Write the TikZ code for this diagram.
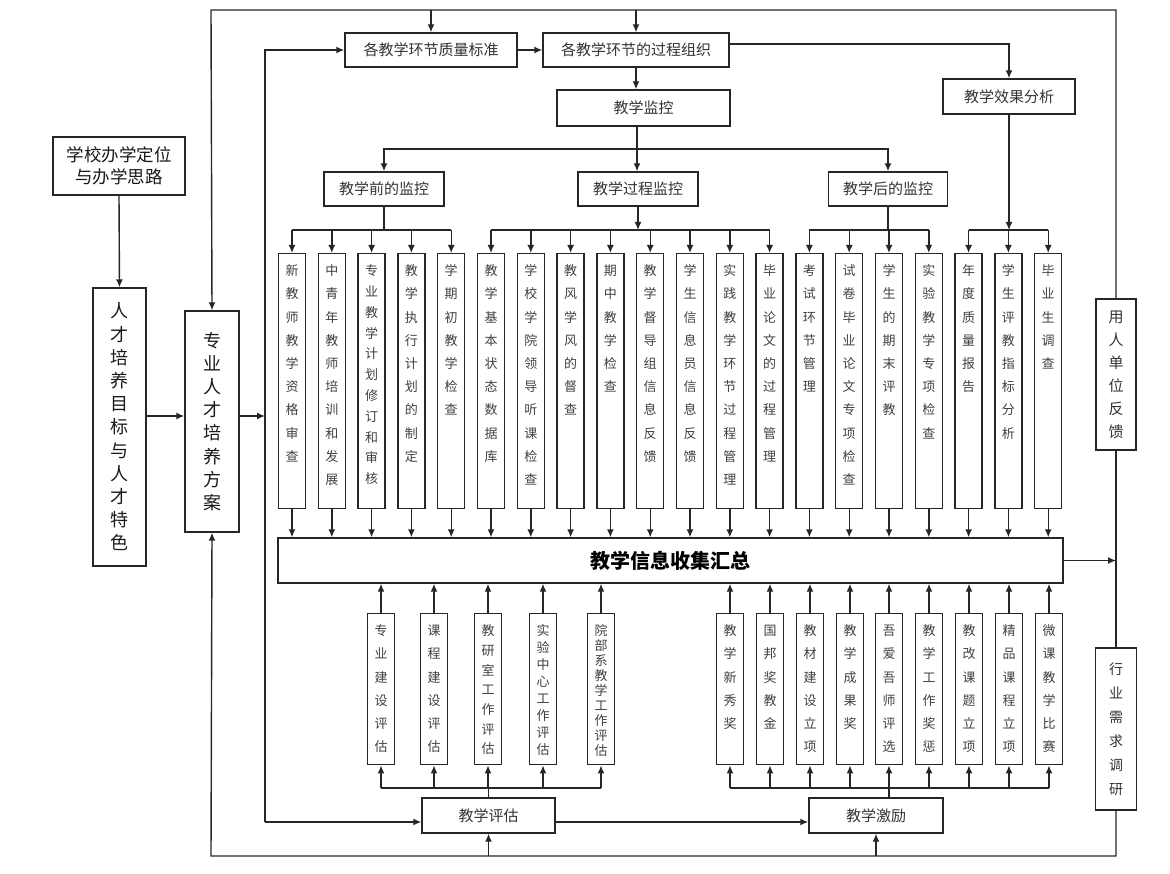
\documentclass[tikz,border=0pt]{standalone}
\usepackage{fontspec}
\setmainfont{Noto Sans CJK SC}
\usepackage{tikz}
\usetikzlibrary{arrows.meta}
\tikzstyle{line} = [draw=black!85, -{Latex[length=8pt,width=7pt]}, line width=1.4pt]
\tikzstyle{wire} = [draw=black!85, line width=1.4pt]
\tikzstyle{hbox} = [draw=black!85, line width=1.4pt, text=black!80, inner sep=0pt, font=\fontsize{15}{18}\selectfont]
\tikzstyle{vbox} = [draw=black!85, line width=1.4pt, text=black!75, inner sep=0pt, minimum width=27pt, anchor=north, text height=22pt, font=\fontsize{13}{23.2}\selectfont]
\tikzstyle{vtall} = [vbox, text depth=233pt]
\tikzstyle{vshort} = [vbox, text depth=129pt]

% one character per line, top aligned
\makeatletter
\def\vstack#1{\parbox[t]{20pt}{\centering\vstack@a#1\@nil}}
\def\vstack@a#1#2\@nil{#1\ifx\relax#2\relax\expandafter\@gobble\else\expandafter\vstack@b\fi#2\@nil}
\def\vstack@b{\\\vstack@a}
\makeatother

\begin{document}
\begin{tikzpicture}[x=1pt,y=-1pt]
	\useasboundingbox (0,0) rectangle (1170,874);
	
	% ------------------- Left column ------------------- %
	\node[hbox, minimum width=132pt, minimum height=58pt, align=center, text=black!90, font=\fontsize{17.5}{22}\selectfont] (school) at (119,166) {学校办学定位\\与办学思路};
	\node[hbox, minimum width=53pt, minimum height=278pt, text=black!90, font=\fontsize{18}{23.2}\selectfont] (goal) at (119.5,427) {\vstack{人才培养目标与人才特色}};
	\node[hbox, minimum width=54pt, minimum height=221pt, text=black!90, font=\fontsize{18}{23.2}\selectfont] (plan) at (212,421.5) {\vstack{专业人才培养方案}};
	
	% ------------------- Upper boxes ------------------- %
	\node[hbox, minimum width=172pt, minimum height=34pt] (std) at (431,50) {各教学环节质量标准};
	\node[hbox, minimum width=186pt, minimum height=34pt] (org) at (636,50) {各教学环节的过程组织};
	\node[hbox, minimum width=173pt, minimum height=36pt] (mon) at (643.5,108) {教学监控};
	\node[hbox, minimum width=132pt, minimum height=35pt] (eff) at (1009,96.5) {教学效果分析};
	\node[hbox, minimum width=120pt, minimum height=34pt] (pre) at (384,189) {教学前的监控};
	\node[hbox, minimum width=120pt, minimum height=34pt] (proc) at (638,189) {教学过程监控};
	\node[hbox, minimum width=119pt, minimum height=34pt] (post) at (888,189) {教学后的监控};
	
	% ------------------- Monitoring items ------------------- %
	\node[vtall] (q1) at (292,253) {\vstack{新教师教学资格审查}};
	\node[vtall] (q2) at (331.8,253) {\vstack{中青年教师培训和发展}};
	\node[vtall, font=\fontsize{13}{20.8}\selectfont] (q3) at (371.6,253) {\vstack{专业教学计划修订和审核}};
	\node[vtall] (q4) at (411.4,253) {\vstack{教学执行计划的制定}};
	\node[vtall] (q5) at (451.2,253) {\vstack{学期初教学检查}};
	\node[vtall] (q6) at (491,253) {\vstack{教学基本状态数据库}};
	\node[vtall] (q7) at (530.8,253) {\vstack{学校学院领导听课检查}};
	\node[vtall] (q8) at (570.6,253) {\vstack{教风学风的督查}};
	\node[vtall] (q9) at (610.4,253) {\vstack{期中教学检查}};
	\node[vtall] (q10) at (650.2,253) {\vstack{教学督导组信息反馈}};
	\node[vtall] (q11) at (690,253) {\vstack{学生信息员信息反馈}};
	\node[vtall] (q12) at (729.8,253) {\vstack{实践教学环节过程管理}};
	\node[vtall] (q13) at (769.6,253) {\vstack{毕业论文的过程管理}};
	\node[vtall] (q14) at (809.4,253) {\vstack{考试环节管理}};
	\node[vtall] (q15) at (849.2,253) {\vstack{试卷毕业论文专项检查}};
	\node[vtall] (q16) at (889,253) {\vstack{学生的期末评教}};
	\node[vtall] (q17) at (928.8,253) {\vstack{实验教学专项检查}};
	\node[vtall] (q18) at (968.6,253) {\vstack{年度质量报告}};
	\node[vtall] (q19) at (1008.4,253) {\vstack{学生评教指标分析}};
	\node[vtall] (q20) at (1048.2,253) {\vstack{毕业生调查}};
	
	\node[hbox, minimum width=785pt, minimum height=45pt, text=black, font=\bfseries\fontsize{20}{24}\selectfont] (info) at (670.5,560.5) {教学信息收集汇总};
	
	% ------------------- Evaluation and incentive items ------------------- %
	\node[vshort] (e1) at (381,613) {\vstack{专业建设评估}};
	\node[vshort] (e2) at (434,613) {\vstack{课程建设评估}};
	\node[vshort, font=\fontsize{13}{19.7}\selectfont] (e3) at (488,613) {\vstack{教研室工作评估}};
	\node[vshort, font=\fontsize{13}{16.9}\selectfont] (e4) at (543,613) {\vstack{实验中心工作评估}};
	\node[vshort, font=\fontsize{13}{15}\selectfont] (e5) at (601,613) {\vstack{院部系教学工作评估}};
	
	\node[vshort] (r1) at (730,613) {\vstack{教学新秀奖}};
	\node[vshort] (r2) at (770,613) {\vstack{国邦奖教金}};
	\node[vshort] (r3) at (810,613) {\vstack{教材建设立项}};
	\node[vshort] (r4) at (850,613) {\vstack{教学成果奖}};
	\node[vshort] (r5) at (889,613) {\vstack{吾爱吾师评选}};
	\node[vshort] (r6) at (929,613) {\vstack{教学工作奖惩}};
	\node[vshort] (r7) at (969,613) {\vstack{教改课题立项}};
	\node[vshort] (r8) at (1009,613) {\vstack{精品课程立项}};
	\node[vshort] (r9) at (1049,613) {\vstack{微课教学比赛}};
	
	\node[hbox, minimum width=133pt, minimum height=35pt] (eval) at (488.5,815.5) {教学评估};
	\node[hbox, minimum width=134pt, minimum height=35pt] (inc) at (876,815.5) {教学激励};
	
	% ------------------- Feedback boxes ------------------- %
	\node[hbox, minimum width=40pt, minimum height=151pt, font=\fontsize{15}{23}\selectfont] (user) at (1116,374.5) {\vstack{用人单位反馈}};
	\node[hbox, minimum width=41pt, minimum height=162pt, font=\fontsize{14}{24}\selectfont] (ind) at (1116,729) {\vstack{行业需求调研}};
	
	% ------------------- Loop corners and branch levels ------------------- %
	\coordinate (tl) at (211,10);
	\coordinate (tr) at (1116,10);
	\coordinate (bl) at (211,856);
	\coordinate (br) at (1116,856);
	\coordinate (it) at (265,50);
	\coordinate (ib) at (265,822);
	\coordinate (j1) at (637,149);
	\coordinate (mid) at (0,416);
	\coordinate (bra) at (0,230);
	\coordinate (brb) at (0,788);
	
	% ------------------- Outer loop ------------------- %
	\draw[line] (user.north) -- (tr) -- (tl) -- (plan.north);
	\draw[wire] (user.south) -- (ind.north);
	\draw[line] (ind.south) -- (br) -- (bl) -- (plan.south);
	\draw[line] (std.north |- tl) -- (std.north);
	\draw[line] (org.north |- tl) -- (org.north);
	\draw[line] (eval.south |- bl) -- (eval.south);
	\draw[line] (inc.south |- bl) -- (inc.south);
	
	% ------------------- Inner loop ------------------- %
	\draw[line] (school.south) -- (goal.north);
	\draw[line] (goal.east |- mid) -- (plan.west |- mid);
	\draw[line] (plan.east |- mid) -- (it |- mid);
	\draw[line] (ib) -- (it) -- (std.west);
	\draw[line] (ib) -- (eval.west |- ib);
	\draw[line] (eval.east |- ib) -- (inc.west |- ib);
	
	% ------------------- Top chain ------------------- %
	\draw[line] (std.east) -- (org.west);
	\draw[line] ([yshift=6pt]org.east) -| (eff.north);
	\draw[line] (org.south) -- (org.south |- mon.north);
	\draw[wire] (mon.south -| j1) -- (j1);
	\draw[line] (j1) -| (pre.north);
	\draw[line] (j1) -| (post.north);
	\draw[line] (j1) -- (j1 |- proc.north);
	
	% ------------------- Branches to the items ------------------- %
	\draw[wire] (pre.south) -- (pre.south |- bra);
	\draw[line] (proc.south) -- (proc.south |- bra);
	\draw[wire] (post.south) -- (post.south |- bra);
	\draw[line] (eff.south) -- (eff.south |- bra);
	\draw[wire] (q1.north |- bra) -- (q5.north |- bra);
	\draw[wire] (q6.north |- bra) -- (q13.north |- bra);
	\draw[wire] (q14.north |- bra) -- (q17.north |- bra);
	\draw[wire] (q18.north |- bra) -- (q20.north |- bra);
	\foreach \i in {1,...,20} {
		\draw[line] (q\i.north |- bra) -- (q\i.north);
		\draw[line] (q\i.south) -- (q\i.south |- info.north);
	}
	
	\draw[wire] (eval.north) -- (eval.north |- brb);
	\draw[wire] (r5.south |- inc.north) -- (r5.south |- brb);
	\draw[wire] (e1.south |- brb) -- (e5.south |- brb);
	\draw[wire] (r1.south |- brb) -- (r9.south |- brb);
	\foreach \n in {e1,e2,e3,e4,e5,r1,r2,r3,r4,r5,r6,r7,r8,r9} {
		\draw[line] (\n.south |- brb) -- (\n.south);
		\draw[line] (\n.north) -- (\n.north |- info.south);
	}
	
	\draw[line] (info.east) -- (info.east -| br);
\end{tikzpicture}
\end{document}
